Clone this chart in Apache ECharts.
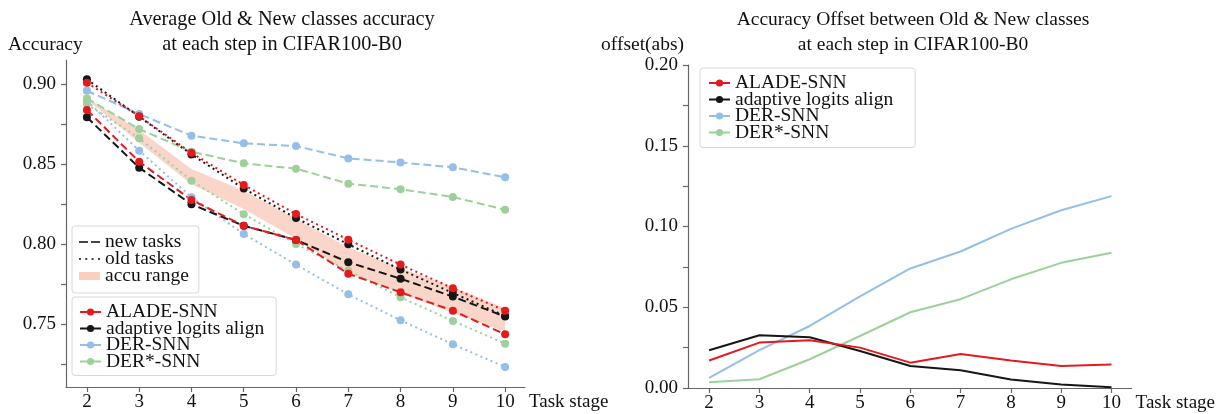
<!DOCTYPE html>
<html>
<head>
<meta charset="utf-8">
<script src="https://cdn.jsdelivr.net/npm/echarts@6/dist/echarts.min.js"></script>
<style>
  html, body { margin: 0; padding: 0; background: #fff; }
  #chart { width: 1218px; height: 414px; }
</style>
</head>
<body>
<div id="chart"></div>
<script>
// task stages
const steps = [2, 3, 4, 5, 6, 7, 8, 9, 10]

// left: accuracy on new tasks (dashed) and old tasks (dotted)
const aladeNew = [0.884, 0.8516, 0.8277, 0.8116, 0.8027, 0.7816, 0.770, 0.7585, 0.7437]
const aladeOld = [0.901, 0.880, 0.8572, 0.8371, 0.8189, 0.8029, 0.7873, 0.7725, 0.7585]
const alignNew = [0.8794, 0.8479, 0.825, 0.8116, 0.8027, 0.7888, 0.7785, 0.7673, 0.7548]
const alignOld = [0.9031, 0.8798, 0.8562, 0.8348, 0.8164, 0.800, 0.7842, 0.7696, 0.7552]
const derNew = [0.896, 0.8814, 0.8679, 0.8631, 0.8614, 0.8537, 0.8512, 0.8481, 0.8419]
const derOld = [0.8898, 0.8585, 0.8294, 0.8064, 0.7873, 0.7687, 0.7525, 0.7375, 0.7233]
const derStarNew = [0.8912, 0.872, 0.8579, 0.8506, 0.8473, 0.8379, 0.8344, 0.8296, 0.8216]
const derStarOld = [0.8877, 0.8663, 0.8398, 0.8188, 0.8002, 0.7835, 0.7669, 0.7521, 0.7379]

// accu range band
const bandLow = [0.8905, 0.8635, 0.8375, 0.822, 0.8035, 0.7822, 0.7695, 0.757, 0.7455]
const bandHigh = [0.8915, 0.8715, 0.847, 0.8335, 0.816, 0.798, 0.785, 0.7735, 0.760]

// right: offset between old & new
const aladeOffset = [0.0170, 0.0281, 0.0296, 0.0250, 0.0157, 0.0211, 0.0170, 0.0136, 0.0145]
const alignOffset = [0.0234, 0.0327, 0.0314, 0.0229, 0.0136, 0.0110, 0.0052, 0.0021, 0.0004]
const derOffset = [0.0062, 0.0234, 0.0384, 0.0568, 0.0740, 0.0845, 0.0985, 0.1101, 0.1188]
const derStarOffset = [0.0035, 0.0054, 0.0178, 0.0322, 0.0469, 0.0550, 0.0673, 0.0775, 0.0837]

// tick labels
const leftYLabels = [0.75, 0.80, 0.85, 0.90]
const leftYTicks = [0.725, 0.75, 0.775, 0.80, 0.825, 0.85, 0.875, 0.90]
const rightYLabels = [0, 0.05, 0.10, 0.15, 0.20]
const rightYTicks = [0, 0.025, 0.05, 0.075, 0.10, 0.125, 0.15, 0.175, 0.20]

const RED = '#e41a1c'
const BLACK = '#161616'
const BLUE = '#93bfe8'
const GREEN = '#9dd09a'
const BAND = 'rgba(243, 165, 138, 0.45)'
const FONT = 'Liberation Serif'

// legend icons for the line style entries
const DASH_ICON = 'path://M0,0h9v2h-9z M12,0h9v2h-9z'
const DOT_ICON = 'path://M0,0h2v2h-2z M6.3,0h2v2h-2z M12.6,0h2v2h-2z M19,0h2v2h-2z'

const pairs = (ys) => steps.map((x, i) => [x, ys[i]])

function methodLine(name, ys, color, type) {
  return {
    name: name,
    type: 'line',
    xAxisIndex: 0,
    yAxisIndex: 0,
    data: pairs(ys),
    symbol: 'circle',
    symbolSize: 8,
    itemStyle: { color: color },
    lineStyle: { color: color, width: 2, type: type === 'dashed' ? [8, 4] : [2, 3.5] },
    animation: false
  }
}

function offsetLine(name, ys, color) {
  return {
    name: name,
    type: 'line',
    xAxisIndex: 1,
    yAxisIndex: 1,
    data: pairs(ys),
    symbol: 'circle',
    showSymbol: false,
    itemStyle: { color: color },
    lineStyle: { color: color, width: 2 },
    animation: false
  }
}

const axisLine = { lineStyle: { color: '#666', width: 1.2 } }
const tickStyle = { length: 5, lineStyle: { color: '#666', width: 1.2 } }
const labelFont = { color: '#111', fontFamily: FONT, fontSize: 19 }

function xAxis(gridIndex, min, max) {
  return {
    type: 'value',
    gridIndex: gridIndex,
    min: min,
    max: max,
    name: 'Task stage',
    nameLocation: 'end',
    nameGap: 4,
    nameTextStyle: { color: '#111', fontFamily: FONT, fontSize: 19, align: 'left', verticalAlign: 'top', padding: [6, 0, 0, 0] },
    axisLine: axisLine,
    axisTick: { show: true, customValues: steps, ...tickStyle },
    axisLabel: { ...labelFont, margin: 6, customValues: steps, formatter: (v) => String(v) },
    splitLine: { show: false }
  }
}

function yAxis(gridIndex, min, max, labels, ticks) {
  return {
    type: 'value',
    gridIndex: gridIndex,
    min: min,
    max: max,
    axisLine: { show: true, ...axisLine },
    axisTick: { show: true, customValues: ticks, ...tickStyle },
    axisLabel: { ...labelFont, margin: 10, customValues: labels, formatter: (v) => v.toFixed(2) },
    splitLine: { show: false }
  }
}

const bandData = steps.map((x, i) => [x, bandLow[i], bandHigh[i]])

const methodLegend = [
  { name: 'ALADE-SNN', lineStyle: { type: 'solid' } },
  { name: 'adaptive logits align', lineStyle: { type: 'solid' } },
  { name: 'DER-SNN', lineStyle: { type: 'solid' } },
  { name: 'DER*-SNN', lineStyle: { type: 'solid' } }
]

const legendBox = {
  orient: 'vertical',
  itemWidth: 21,
  itemHeight: 9,
  itemTextGap: 8,
  backgroundColor: '#fff',
  borderColor: '#d8d8d8',
  borderWidth: 1,
  borderRadius: 3,
  selectedMode: false
}

const option = {
  backgroundColor: '#fff',
  animation: false,
  title: [
    {
      text: 'Average Old & New classes accuracy\nat each step in CIFAR100-B0',
      left: 282, top: 7, textAlign: 'center', padding: 0,
      textStyle: { fontFamily: FONT, fontSize: 20.3, fontWeight: 'normal', color: '#111', lineHeight: 25 }
    },
    {
      text: 'Accuracy Offset between Old & New classes\nat each step in CIFAR100-B0',
      left: 913, top: 7, textAlign: 'center', padding: 0,
      textStyle: { fontFamily: FONT, fontSize: 19.5, fontWeight: 'normal', color: '#111', lineHeight: 25 }
    }
  ],
  graphic: [
    { type: 'text', left: 8, top: 35, style: { text: 'Accuracy', font: '19.5px "Liberation Serif"', fill: '#111' } },
    { type: 'text', left: 601, top: 35, style: { text: 'offset(abs)', font: '19.5px "Liberation Serif"', fill: '#111' } }
  ],
  legend: [
    {
      ...legendBox,
      left: 72, top: 226,
      itemGap: -3, itemHeight: 8, itemTextGap: 9,
      padding: [6, 10, 7, 7],
      textStyle: { fontFamily: FONT, fontSize: 19.5, color: '#111' },
      data: [
        { name: 'new tasks', icon: DASH_ICON, itemStyle: { color: BLACK } },
        { name: 'old tasks', icon: DOT_ICON, itemStyle: { color: BLACK } },
        { name: 'accu range', icon: 'rect', itemStyle: { color: '#f9d0c0' } }
      ]
    },
    {
      ...legendBox,
      left: 72, top: 297,
      itemGap: -3.5,
      padding: [5, 12, 4, 7],
      textStyle: { fontFamily: FONT, fontSize: 19.5, color: '#111' },
      data: methodLegend
    },
    {
      ...legendBox,
      left: 700, top: 68,
      itemGap: -3.5,
      padding: [5, 22, 5, 8],
      textStyle: { fontFamily: FONT, fontSize: 19.5, color: '#111' },
      data: methodLegend
    }
  ],
  grid: [
    { left: 66, top: 60, width: 459, height: 327 },
    { left: 688, top: 65, width: 445, height: 323 }
  ],
  xAxis: [xAxis(0, 1.6, 10.38), xAxis(1, 1.58, 10.4)],
  yAxis: [
    yAxis(0, 0.7108, 0.9152, leftYLabels, leftYTicks),
    yAxis(1, 0, 0.20, rightYLabels, rightYTicks)
  ],
  series: [
    // legend-only style entries
    { name: 'new tasks', type: 'scatter', data: [], itemStyle: { color: BLACK } },
    { name: 'old tasks', type: 'scatter', data: [], itemStyle: { color: BLACK } },

    methodLine('DER-SNN', derNew, BLUE, 'dashed'),
    methodLine('DER-SNN', derOld, BLUE, 'dotted'),
    methodLine('DER*-SNN', derStarNew, GREEN, 'dashed'),
    methodLine('DER*-SNN', derStarOld, GREEN, 'dotted'),
    methodLine('adaptive logits align', alignNew, BLACK, 'dashed'),
    {
      name: 'accu range',
      type: 'custom',
      xAxisIndex: 0,
      yAxisIndex: 0,
      data: bandData,
      encode: { x: 0, y: [1, 2] },
      renderItem: function (params, api) {
        if (params.dataIndex !== 0) return null
        const top = bandData.map((d) => api.coord([d[0], d[2]]))
        const bottom = bandData.map((d) => api.coord([d[0], d[1]])).reverse()
        return {
          type: 'polygon',
          shape: { points: top.concat(bottom) },
          style: { fill: BAND }
        }
      },
      itemStyle: { color: '#f9d0c0' }
    },
    methodLine('adaptive logits align', alignOld, BLACK, 'dotted'),
    methodLine('ALADE-SNN', aladeNew, RED, 'dashed'),
    methodLine('ALADE-SNN', aladeOld, RED, 'dotted'),

    offsetLine('DER-SNN', derOffset, BLUE),
    offsetLine('DER*-SNN', derStarOffset, GREEN),
    offsetLine('adaptive logits align', alignOffset, BLACK),
    offsetLine('ALADE-SNN', aladeOffset, RED)
  ]
}

const chart = echarts.init(document.getElementById('chart'))
chart.setOption(option)
</script>
</body>
</html>
